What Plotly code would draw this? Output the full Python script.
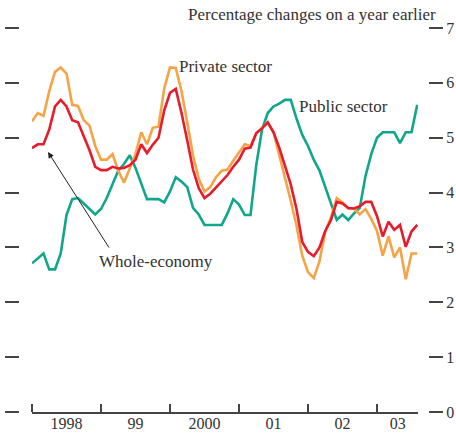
import plotly.graph_objects as go

# Monthly observations, Jan 1998 .. Aug 2003 (68 months)
start_year = 1998
n_months = 68
months = [start_year + i / 12 for i in range(n_months)]

private_sector = [
    5.30, 5.45, 5.40, 5.85, 6.20, 6.28, 6.17, 5.60, 5.58, 5.32,
    5.22, 4.85, 4.60, 4.60, 4.70, 4.40, 4.18, 4.45, 4.70, 5.10,
    4.88, 5.18, 5.20, 5.90, 6.28, 6.27, 5.85, 5.28, 4.68, 4.25,
    4.02, 4.10, 4.28, 4.40, 4.42, 4.58, 4.72, 4.88, 4.85, 5.08,
    5.18, 5.28, 5.10, 4.70, 4.25, 3.85, 3.40, 2.85, 2.55, 2.44,
    2.75, 3.29, 3.55, 3.90, 3.82, 3.71, 3.71, 3.60, 3.70, 3.52,
    3.30, 2.85, 3.20, 2.82, 3.00, 2.42, 2.89, 2.89,
]

whole_economy = [
    4.81, 4.88, 4.88, 5.15, 5.57, 5.69, 5.57, 5.32, 5.28, 5.03,
    4.77, 4.47, 4.41, 4.41, 4.47, 4.44, 4.45, 4.50, 4.60, 4.88,
    4.72, 4.87, 5.00, 5.50, 5.82, 5.89, 5.45, 4.95, 4.42, 4.08,
    3.90, 3.98, 4.10, 4.20, 4.32, 4.47, 4.60, 4.80, 4.82, 5.08,
    5.17, 5.28, 5.10, 4.82, 4.50, 4.15, 3.70, 3.10, 2.92, 2.84,
    3.00, 3.30, 3.50, 3.83, 3.80, 3.72, 3.71, 3.75, 3.83, 3.83,
    3.57, 3.20, 3.47, 3.32, 3.41, 3.01, 3.29, 3.41,
]

public_sector = [
    2.71, 2.80, 2.89, 2.60, 2.60, 2.89, 3.59, 3.88, 3.90, 3.80,
    3.70, 3.60, 3.70, 3.90, 4.15, 4.40, 4.52, 4.68, 4.45, 4.15,
    3.88, 3.88, 3.88, 3.82, 4.02, 4.28, 4.20, 4.10, 3.72, 3.60,
    3.41, 3.41, 3.41, 3.41, 3.62, 3.88, 3.78, 3.59, 3.59, 4.50,
    5.15, 5.45, 5.57, 5.62, 5.69, 5.69, 5.35, 5.05, 4.85, 4.60,
    4.40, 4.10, 3.80, 3.50, 3.60, 3.50, 3.62, 3.72, 4.30, 4.70,
    5.00, 5.10, 5.10, 5.10, 4.90, 5.10, 5.10, 5.60,
]

year_starts = [1998, 1999, 2000, 2001, 2002, 2003]
year_label_pos = [1998.5, 1999.5, 2000.5, 2001.5, 2002.5, 2003.3]
year_labels = ["1998", "99", "2000", "01", "02", "03"]
y_ticks = [0, 1, 2, 3, 4, 5, 6, 7]

ORANGE = "#F6A347"
RED = "#E61B2C"
GREEN = "#10A68C"
INK = "#333333"
AXIS = "#444444"
FONT = "Liberation Serif"

# plot area in pixels
L, R, T, B = 20, 428, 28, 412
W = R - L

fig = go.Figure()
for series, color in [(public_sector, GREEN), (private_sector, ORANGE), (whole_economy, RED)]:
    fig.add_trace(go.Scatter(x=months, y=series, mode="lines", xaxis="x2", yaxis="y",
                             line=dict(color=color, width=2.6), hoverinfo="skip"))

fig.update_layout(
    width=456, height=434,
    margin=dict(l=L, r=456 - R, t=T, b=434 - B),
    paper_bgcolor="white", plot_bgcolor="white",
    showlegend=False,
    font=dict(family=FONT, size=16, color=INK),
    # full-width helper axis: anchors the left and right tick columns
    xaxis=dict(domain=[0, 1], range=[0, 1], visible=False, automargin=False),
    # time axis
    xaxis2=dict(
        domain=[(32 - L) / W, (418 - L) / W], anchor="y",
        range=[1998, 1998 + 386 / 69],
        showgrid=False, zeroline=False, automargin=False,
        showline=True, linecolor=AXIS, linewidth=1.5,
        tickmode="array", tickvals=year_label_pos, ticktext=year_labels,
        ticks="", ticklen=0, ticklabelstandoff=-4,
        tickfont=dict(family=FONT, size=16, color=INK),
        minor=dict(tickmode="array", tickvals=year_starts, ticks="inside",
                   ticklen=8, tickwidth=1.5, tickcolor=AXIS),
    ),
    yaxis=dict(
        range=[0, 7], side="left", anchor="x", automargin=False,
        tickmode="array", tickvals=y_ticks,
        ticks="outside", ticklen=14, tickwidth=1.5, tickcolor=AXIS,
        showticklabels=False, showgrid=False, zeroline=False, showline=False,
    ),
    yaxis2=dict(
        range=[0, 7], side="right", anchor="x", overlaying="y", automargin=False,
        tickmode="array", tickvals=y_ticks,
        ticks="outside", ticklen=14, tickwidth=1.5, tickcolor=AXIS,
        showgrid=False, zeroline=False, showline=False,
        tickfont=dict(family=FONT, size=16, color=INK),
    ),
)

fig.add_trace(go.Scatter(x=[None], y=[None], xaxis="x", yaxis="y2",
                         showlegend=False, hoverinfo="skip"))

TXT = dict(family=FONT, size=17, color=INK)
fig.add_annotation(text="Percentage changes on a year earlier",
                   xref="paper", yref="paper", x=(438 - L) / W, y=1.0,
                   xanchor="right", yanchor="bottom", yshift=2,
                   showarrow=False, font=TXT)
fig.add_annotation(text="Private sector", xref="x2", yref="y", x=2000.81, y=6.29,
                   showarrow=False, font=TXT)
fig.add_annotation(text="Public sector", xref="x2", yref="y", x=2002.52, y=5.56,
                   showarrow=False, font=TXT)
fig.add_annotation(text="Whole-economy", xref="x2", yref="y", x=1999.79, y=2.75,
                   showarrow=False, font=TXT)
fig.add_annotation(text="", xref="x2", yref="y", x=1998.232, y=4.74,
                   ax=1999.13, ay=2.97, axref="x2", ayref="y", showarrow=True,
                   arrowhead=2, arrowsize=1.2, arrowwidth=1, arrowcolor="#222222")

fig.write_html(
    "out.html",
    config={"displayModeBar": False},
    post_script="document.body.style.margin='0px';document.body.style.overflow='hidden';",
)
